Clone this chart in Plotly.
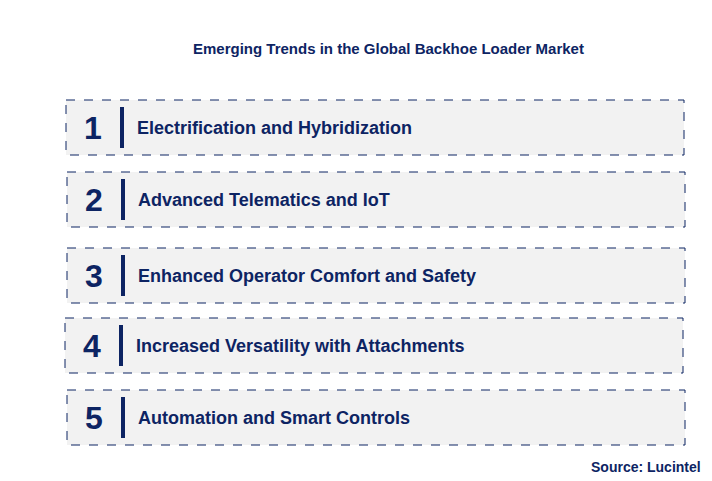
import plotly.graph_objects as go

trends = ["Electrification and Hybridization", "Advanced Telematics and IoT",
          "Enhanced Operator Comfort and Safety", "Increased Versatility with Attachments",
          "Automation and Smart Controls"]
numbers = ["1", "2", "3", "4", "5"]
box_top = [100, 172, 248, 318, 390]
box_left = [66, 67, 67, 65, 67]
box_h = 55
box_w = 618
OFF = 8  # compensate page offset

navy = "#0d2463"
fig = go.Figure()
shapes = []
annotations = []
for n, t, y0, x0 in zip(numbers, trends, box_top, box_left):
    x0 -= OFF
    y0 -= OFF
    shapes.append(dict(type="rect", x0=x0, x1=x0 + box_w, y0=y0, y1=y0 + box_h,
                       fillcolor="#f2f2f2", line=dict(color=navy, width=1, dash="dash")))
    shapes.append(dict(type="line", x0=x0 + 56, x1=x0 + 56, y0=y0 + 7, y1=y0 + box_h - 7,
                       line=dict(color=navy, width=4)))
    annotations.append(dict(x=x0 + 27, y=y0 + box_h / 2, text="<b>" + n + "</b>", showarrow=False,
                            font=dict(size=32, color=navy, family="Liberation Sans"),
                            xanchor="center", yanchor="middle"))
    annotations.append(dict(x=x0 + 69, y=y0 + box_h / 2, text="<b>" + t + "</b>", showarrow=False,
                            font=dict(size=18, color=navy, family="Liberation Sans"),
                            xanchor="left", yanchor="middle"))
annotations.append(dict(x=388 - OFF, y=48 - OFF, text="<b>Emerging Trends in the Global Backhoe Loader Market</b>",
                        showarrow=False, font=dict(size=15, color=navy, family="Liberation Sans"),
                        xanchor="center", yanchor="middle"))
annotations.append(dict(x=703 - OFF, y=467 - OFF, text="<b>Source: Lucintel</b>", showarrow=False,
                        font=dict(size=14, color=navy, family="Liberation Sans"),
                        xanchor="right", yanchor="middle"))
fig.add_trace(go.Scatter(x=[0, 712], y=[0, 481], mode="markers", marker=dict(opacity=0),
                         hoverinfo="skip", showlegend=False))
fig.update_layout(width=712, height=481, margin=dict(l=0, r=0, t=0, b=0),
                  plot_bgcolor="white", paper_bgcolor="white",
                  shapes=shapes, annotations=annotations,
                  xaxis=dict(range=[0, 712], visible=False, fixedrange=True),
                  yaxis=dict(range=[481, 0], visible=False, fixedrange=True))
fig.write_html("out.html")
